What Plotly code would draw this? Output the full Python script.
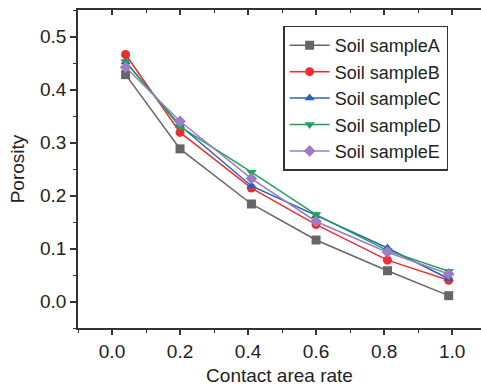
import plotly.graph_objects as go

contact_rate = [0.04, 0.2, 0.41, 0.6, 0.81, 0.99]
series_names = ["Soil sampleA", "Soil sampleB", "Soil sampleC", "Soil sampleD", "Soil sampleE"]
sample_a = [0.428, 0.288, 0.184, 0.116, 0.058, 0.011]
sample_b = [0.466, 0.319, 0.214, 0.145, 0.078, 0.040]
sample_c = [0.452, 0.332, 0.218, 0.162, 0.101, 0.043]
sample_d = [0.453, 0.330, 0.244, 0.164, 0.096, 0.057]
sample_e = [0.442, 0.340, 0.232, 0.151, 0.093, 0.052]
x_ticks = [0.0, 0.2, 0.4, 0.6, 0.8, 1.0]
y_ticks = [0.0, 0.1, 0.2, 0.3, 0.4, 0.5]

colors = ["#666666", "#ee2e2e", "#2b5fbf", "#1fa25a", "#9e7cc1"]
symbols = ["square", "circle", "triangle-up", "triangle-down", "diamond"]
values = [sample_a, sample_b, sample_c, sample_d, sample_e]

FONT = "Liberation Sans, Arial, sans-serif"
AX = "#333333"
FS = 19

fig = go.Figure()
for name, vals, c, s in zip(series_names, values, colors, symbols):
    fig.add_trace(go.Scatter(
        x=contact_rate, y=vals, name=name, mode="lines+markers",
        line=dict(color=c, width=1.5),
        marker=dict(symbol=s, size=9, color=c),
    ))
# invisible trace to activate the top mirror axis
fig.add_trace(go.Scatter(x=contact_rate, y=sample_a, xaxis="x2", mode="lines",
                         line=dict(width=0, color="rgba(0,0,0,0)"),
                         showlegend=False, hoverinfo="skip"))

xr = [-0.1, 1.085]
fig.update_layout(
    width=481, height=387,
    margin=dict(l=78, r=0, t=10, b=59),
    paper_bgcolor="white", plot_bgcolor="white",
    font=dict(family=FONT, size=FS, color="#222222"),
    showlegend=True,
    legend=dict(x=0.509, y=0.951, xanchor="left", yanchor="top",
                bordercolor=AX, borderwidth=1.5, bgcolor="white",
                font=dict(size=18), itemwidth=40,
                tracegroupgap=0),
    xaxis=dict(range=xr, tickvals=x_ticks, ticktext=[f"{v:.1f}" for v in x_ticks],
               automargin=False,
               showline=True, linecolor=AX, linewidth=1.5,
               ticks="outside", ticklen=5, tickwidth=1.5, tickcolor=AX,
               minor=dict(dtick=0.1, tick0=0.0, ticks="outside", ticklen=3, tickwidth=1.2, tickcolor=AX, showgrid=False),
               showgrid=False, zeroline=False,
               title=dict(text="Contact area rate", font=dict(size=FS), standoff=8)),
    xaxis2=dict(range=xr, overlaying="x", side="top", anchor="y",
                automargin=False,
                showline=True, linecolor=AX, linewidth=1.5,
                tickvals=x_ticks, showticklabels=False,
                ticks="inside", ticklen=5, tickwidth=1.5, tickcolor=AX,
                minor=dict(dtick=0.1, tick0=0.0, ticks="inside", ticklen=3, tickwidth=1.2, tickcolor=AX, showgrid=False),
                showgrid=False, zeroline=False),
    yaxis=dict(range=[-0.05, 0.55], tickvals=y_ticks, ticktext=[f"{v:.1f}" for v in y_ticks],
               automargin=False,
               showline=True, linecolor=AX, linewidth=1.5,
               ticks="outside", ticklen=6, tickwidth=1.5, tickcolor=AX,
               minor=dict(dtick=0.05, tick0=0.0, ticks="outside", ticklen=3, tickwidth=1.2, tickcolor=AX, showgrid=False),
               showgrid=False, zeroline=False,
               title=dict(text="Porosity", font=dict(size=FS), standoff=10)),
)

fig.write_html("out.html", config={"displayModeBar": False},
               post_script="document.body.style.margin='0';document.body.style.overflow='hidden';")
